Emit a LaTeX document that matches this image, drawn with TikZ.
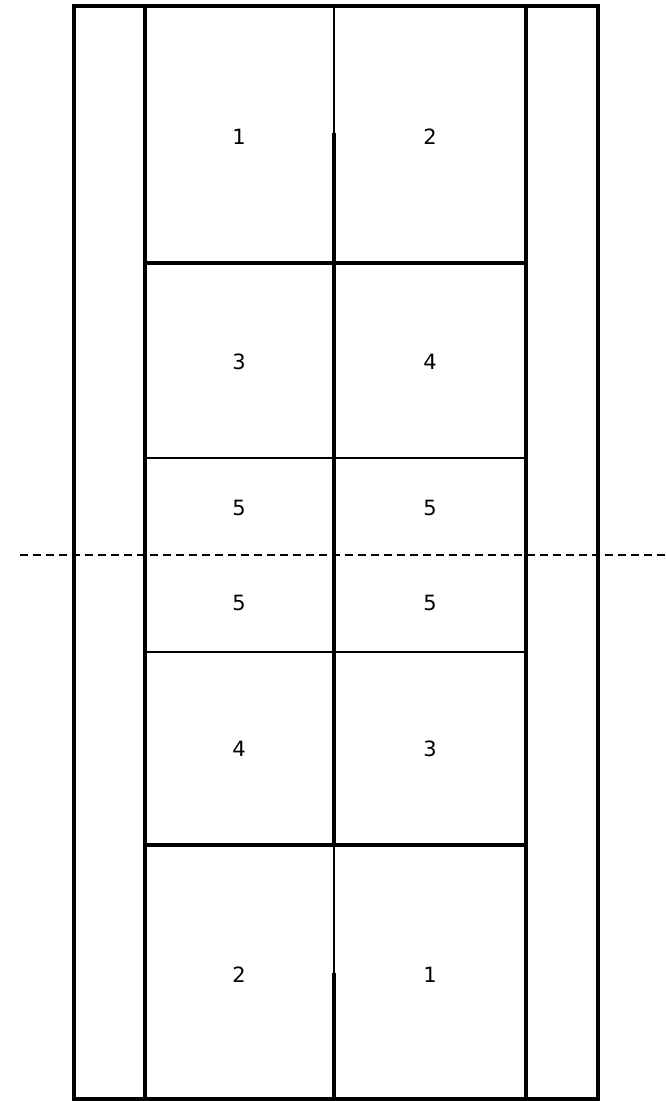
\documentclass[tikz,border=0pt]{standalone}
\usepackage{fontspec}
\setsansfont{DejaVu Sans}
\usetikzlibrary{calc}
\definecolor{ink}{HTML}{000000}

\begin{document}
\begin{tikzpicture}[
  x=1pt, y=-1pt,
  font=\sffamily\fontsize{21}{24}\selectfont,
  heavy/.style={draw=ink, line width=4pt},
  light/.style={draw=ink, line width=1.5pt},
  midline/.style={draw=ink, line width=1.6pt, dash pattern=on 8pt off 5pt},
  cell/.style={text=ink, inner sep=0pt}
]
\useasboundingbox (0,0) rectangle (666,1101);

% Umriss und Seitenstreifen
\draw[heavy] (74,6) rectangle (598,1099);
\draw[heavy] (145,6) -- (145,1099);
\draw[heavy] (526,6) -- (526,1099);

% Mittellinie, abschnittsweise
\draw[light] (334,6) -- (334,133);
\draw[heavy] (334,133) -- (334,845);
\draw[light] (334,845) -- (334,973);
\draw[heavy] (334,973) -- (334,1099);

% Querlinien
\draw[heavy] (145,263) -- (526,263);
\draw[light] (145,458) -- (526,458);
\draw[light] (145,652) -- (526,652);
\draw[heavy] (145,845) -- (526,845);

% Netz
\draw[midline] (20,555) -- (666,555);

% Feldnummern
\foreach \num/\px/\py/\id in {1/239/137/a, 2/430/137/b, 3/239/362/c, 4/430/362/d,
                              5/239/508/e, 5/430/508/f, 5/239/603/g, 5/430/603/h,
                              4/239/749/i, 3/430/749/j, 2/239/975/k, 1/430/975/l}
  \node[cell] (field\id) at (\px,\py) {\num};

\end{tikzpicture}
\end{document}
